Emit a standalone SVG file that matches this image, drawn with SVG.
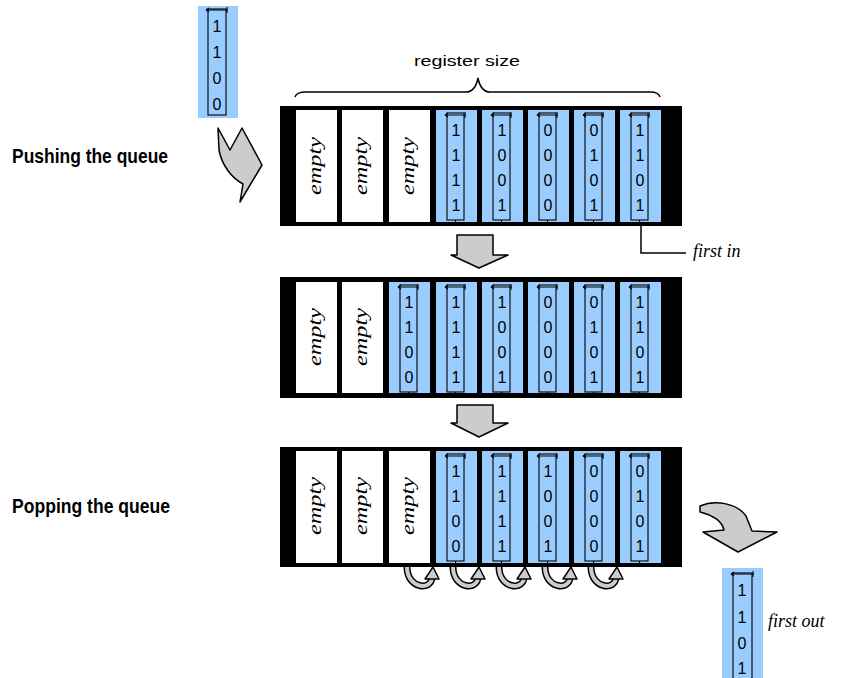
<svg xmlns="http://www.w3.org/2000/svg" xmlns:xlink="http://www.w3.org/1999/xlink" width="859" height="678" viewBox="0 0 859 678">
<style>
.reg{fill:#000}
.blue{fill:#99ccff}
.white{fill:#fff}
.frm{fill:none;stroke:#000;stroke-width:1.1}
.dig{font-family:"Liberation Sans",Arial,sans-serif;font-size:16px;fill:#000;text-anchor:middle}
.emp{font-family:"Liberation Serif","Times New Roman",serif;font-style:italic;font-size:19px;fill:#000;text-anchor:middle}
.lbl{font-family:"Liberation Sans",Arial,sans-serif;font-weight:bold;font-size:21px;fill:#000}
.it{font-family:"Liberation Serif","Times New Roman",serif;font-style:italic;font-size:18px;fill:#000}
.sz{font-family:"Liberation Sans",Arial,sans-serif;font-size:15px;fill:#000;text-anchor:middle}
.garrow{fill:#cccccc;stroke:#000;stroke-width:1.5;stroke-linejoin:round}
.line{fill:none;stroke:#000;stroke-width:1.5}
</style>
<defs>
<g id="frame">
<rect class="frm" x="11" y="3" width="17" height="107"/>
<path class="frm" d="M9,5 H30 M9,5 l3,-2 M9,5 l3,2 M29,2 v6 M19.5,110 v2"/>
</g>
<g id="curly">
<path d="M2,0 C2,22 27,24 27,10" fill="none" stroke="#000" stroke-width="7"/>
<path d="M2,0 C2,22 27,24 27,10" fill="none" stroke="#cccccc" stroke-width="4"/>
<polygon class="garrow" points="20,12 28,0 34,12"/>
</g>
</defs>

<text class="lbl" x="12" y="163" textLength="156" lengthAdjust="spacingAndGlyphs">Pushing the queue</text>
<text class="lbl" x="12" y="513" textLength="158" lengthAdjust="spacingAndGlyphs">Popping the queue</text>

<g id="input">
<rect class="blue" x="198" y="6" width="40" height="112"/>
<rect class="frm" x="208" y="9" width="18" height="106"/>
<path class="frm" d="M206,10 H228 M206,10 l3,-2 M206,10 l3,2 M227,7 v6"/>
<text class="dig" x="217" y="32">1</text>
<text class="dig" x="217" y="58">1</text>
<text class="dig" x="217" y="84">0</text>
<text class="dig" x="217" y="110">0</text>
</g>

<g id="register-size">
<text class="sz" x="467" y="66" textLength="106" lengthAdjust="spacingAndGlyphs">register size</text>
<path class="line" d="M295,97 C296,93 300,92 306,92 H466 C472,92 476,88 478,78 C480,88 484,92 490,92 H650 C656,92 659,93 660,97" stroke-width="1.3"/>
</g>

<g id="register1">
<rect class="reg" x="280" y="106" width="402" height="120"/>
<rect class="white" x="296" y="110" width="41" height="112"/>
<rect class="white" x="342" y="110" width="41" height="112"/>
<rect class="white" x="389" y="110" width="41" height="112"/>
<text class="emp" transform="translate(316.5,166) rotate(-90)" y="4" textLength="58" lengthAdjust="spacingAndGlyphs">empty</text>
<text class="emp" transform="translate(362.5,166) rotate(-90)" y="4" textLength="58" lengthAdjust="spacingAndGlyphs">empty</text>
<text class="emp" transform="translate(409.5,166) rotate(-90)" y="4" textLength="58" lengthAdjust="spacingAndGlyphs">empty</text>
<g transform="translate(436,110)"><rect class="blue" width="41" height="112"/><use xlink:href="#frame"/><text class="dig" x="20" y="26">1</text><text class="dig" x="20" y="51">1</text><text class="dig" x="20" y="76">1</text><text class="dig" x="20" y="101">1</text></g>
<g transform="translate(482,110)"><rect class="blue" width="41" height="112"/><use xlink:href="#frame"/><text class="dig" x="20" y="26">1</text><text class="dig" x="20" y="51">0</text><text class="dig" x="20" y="76">0</text><text class="dig" x="20" y="101">1</text></g>
<g transform="translate(528,110)"><rect class="blue" width="41" height="112"/><use xlink:href="#frame"/><text class="dig" x="20" y="26">0</text><text class="dig" x="20" y="51">0</text><text class="dig" x="20" y="76">0</text><text class="dig" x="20" y="101">0</text></g>
<g transform="translate(574,110)"><rect class="blue" width="41" height="112"/><use xlink:href="#frame"/><text class="dig" x="20" y="26">0</text><text class="dig" x="20" y="51">1</text><text class="dig" x="20" y="76">0</text><text class="dig" x="20" y="101">1</text></g>
<g transform="translate(620,110)"><rect class="blue" width="41" height="112"/><use xlink:href="#frame"/><text class="dig" x="20" y="26">1</text><text class="dig" x="20" y="51">1</text><text class="dig" x="20" y="76">0</text><text class="dig" x="20" y="101">1</text></g>
</g>

<g id="register2">
<rect class="reg" x="280" y="277" width="402" height="121"/>
<rect class="white" x="296" y="282" width="41" height="111"/>
<rect class="white" x="342" y="282" width="41" height="111"/>
<text class="emp" transform="translate(316.5,337) rotate(-90)" y="4" textLength="58" lengthAdjust="spacingAndGlyphs">empty</text>
<text class="emp" transform="translate(362.5,337) rotate(-90)" y="4" textLength="58" lengthAdjust="spacingAndGlyphs">empty</text>
<g transform="translate(389,282)"><rect class="blue" width="41" height="111"/><use xlink:href="#frame"/><text class="dig" x="20" y="26">1</text><text class="dig" x="20" y="51">1</text><text class="dig" x="20" y="76">0</text><text class="dig" x="20" y="101">0</text></g>
<g transform="translate(436,282)"><rect class="blue" width="41" height="111"/><use xlink:href="#frame"/><text class="dig" x="20" y="26">1</text><text class="dig" x="20" y="51">1</text><text class="dig" x="20" y="76">1</text><text class="dig" x="20" y="101">1</text></g>
<g transform="translate(482,282)"><rect class="blue" width="41" height="111"/><use xlink:href="#frame"/><text class="dig" x="20" y="26">1</text><text class="dig" x="20" y="51">0</text><text class="dig" x="20" y="76">0</text><text class="dig" x="20" y="101">1</text></g>
<g transform="translate(528,282)"><rect class="blue" width="41" height="111"/><use xlink:href="#frame"/><text class="dig" x="20" y="26">0</text><text class="dig" x="20" y="51">0</text><text class="dig" x="20" y="76">0</text><text class="dig" x="20" y="101">0</text></g>
<g transform="translate(574,282)"><rect class="blue" width="41" height="111"/><use xlink:href="#frame"/><text class="dig" x="20" y="26">0</text><text class="dig" x="20" y="51">1</text><text class="dig" x="20" y="76">0</text><text class="dig" x="20" y="101">1</text></g>
<g transform="translate(620,282)"><rect class="blue" width="41" height="111"/><use xlink:href="#frame"/><text class="dig" x="20" y="26">1</text><text class="dig" x="20" y="51">1</text><text class="dig" x="20" y="76">0</text><text class="dig" x="20" y="101">1</text></g>
</g>

<g id="register3">
<rect class="reg" x="280" y="447" width="402" height="120"/>
<rect class="white" x="296" y="451" width="41" height="112"/>
<rect class="white" x="342" y="451" width="41" height="112"/>
<rect class="white" x="389" y="451" width="41" height="112"/>
<text class="emp" transform="translate(316.5,506) rotate(-90)" y="4" textLength="58" lengthAdjust="spacingAndGlyphs">empty</text>
<text class="emp" transform="translate(362.5,506) rotate(-90)" y="4" textLength="58" lengthAdjust="spacingAndGlyphs">empty</text>
<text class="emp" transform="translate(409.5,506) rotate(-90)" y="4" textLength="58" lengthAdjust="spacingAndGlyphs">empty</text>
<g transform="translate(436,451)"><rect class="blue" width="41" height="112"/><use xlink:href="#frame"/><text class="dig" x="20" y="26">1</text><text class="dig" x="20" y="51">1</text><text class="dig" x="20" y="76">0</text><text class="dig" x="20" y="101">0</text></g>
<g transform="translate(482,451)"><rect class="blue" width="41" height="112"/><use xlink:href="#frame"/><text class="dig" x="20" y="26">1</text><text class="dig" x="20" y="51">1</text><text class="dig" x="20" y="76">1</text><text class="dig" x="20" y="101">1</text></g>
<g transform="translate(528,451)"><rect class="blue" width="41" height="112"/><use xlink:href="#frame"/><text class="dig" x="20" y="26">1</text><text class="dig" x="20" y="51">0</text><text class="dig" x="20" y="76">0</text><text class="dig" x="20" y="101">1</text></g>
<g transform="translate(574,451)"><rect class="blue" width="41" height="112"/><use xlink:href="#frame"/><text class="dig" x="20" y="26">0</text><text class="dig" x="20" y="51">0</text><text class="dig" x="20" y="76">0</text><text class="dig" x="20" y="101">0</text></g>
<g transform="translate(620,451)"><rect class="blue" width="41" height="112"/><use xlink:href="#frame"/><text class="dig" x="20" y="26">0</text><text class="dig" x="20" y="51">1</text><text class="dig" x="20" y="76">0</text><text class="dig" x="20" y="101">1</text></g>
</g>

<g id="output">
<rect class="blue" x="722" y="568" width="41" height="110"/>
<rect class="frm" x="733" y="573" width="19" height="110"/>
<path class="frm" d="M731,574 H754 M731,574 l3,-2 M731,574 l3,2 M753,571 v6"/>
<text class="dig" x="742" y="596">1</text>
<text class="dig" x="742" y="623">1</text>
<text class="dig" x="742" y="649">0</text>
<text class="dig" x="742" y="674">1</text>
</g>

<text class="it" x="693" y="257">first in</text>
<text class="it" x="768" y="627">first out</text>

<g id="connectors">
<path class="line" d="M641,226 V253 H686"/>
<path class="garrow" d="M218,128 L230,150 L242,128 L262,165 L240,202 L243,184 C232,178 222,166 219,150 Z"/>
<path class="garrow" d="M457,235 H493 V255 H508 L479,268 L451,255 H457 Z"/>
<path class="garrow" d="M457,405 H493 V423 H508 L479,437 L451,423 H457 Z"/>
<path class="garrow" d="M700,506 C716,499 738,504 746,516 L752,531 L777,532 L738,552 L703,532 L724,530 C722,521 712,515 700,512 Z"/>
<use xlink:href="#curly" x="405" y="567"/>
<use xlink:href="#curly" x="451" y="567"/>
<use xlink:href="#curly" x="497" y="567"/>
<use xlink:href="#curly" x="543" y="567"/>
<use xlink:href="#curly" x="589" y="567"/>
</g>
</svg>
